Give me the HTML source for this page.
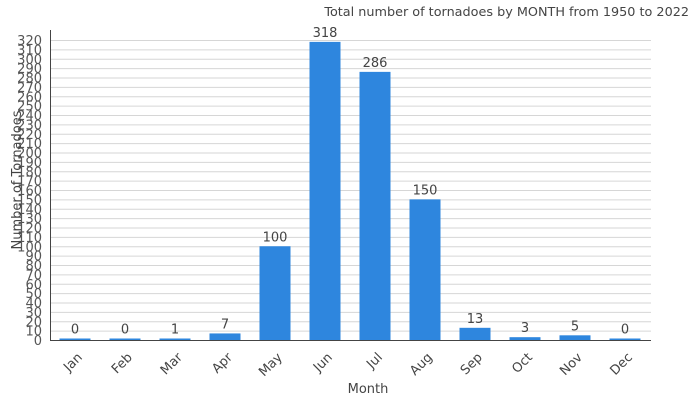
<!DOCTYPE html>
<html><head><meta charset="utf-8"><style>
html,body{margin:0;padding:0;background:#fff;}
svg{display:block;font-family:"DejaVu Sans","Liberation Sans",sans-serif;}
</style></head><body>
<svg width="700" height="400" viewBox="0 0 700 400" xmlns="http://www.w3.org/2000/svg">
<rect width="700" height="400" fill="#fff"/>
<text x="689" y="16" text-anchor="end" font-size="12.8" fill="#444">Total number of tornadoes by MONTH from 1950 to 2022</text>
<g id="grid" stroke="#d6d6d6" stroke-width="1"></g>
<g id="yl" font-size="13" fill="#555" text-anchor="end"></g>
<g id="bars" fill="#2e86de"></g>
<g id="vl" font-size="13" fill="#444" text-anchor="middle"></g>
<g id="xl" font-size="13" fill="#444" text-anchor="end"></g>
<line x1="50.5" y1="30" x2="50.5" y2="340" stroke="#444"/>
<line x1="50" y1="340.5" x2="651" y2="340.5" stroke="#444"/>
<text x="368" y="393" text-anchor="middle" font-size="13" fill="#444">Month</text>
<text transform="translate(21,180) rotate(-90)" text-anchor="middle" font-size="13" fill="#444">Number of Tornadoes</text>
</svg>
<script>
var ns="http://www.w3.org/2000/svg";
function el(t,a,p,txt){var e=document.createElementNS(ns,t);for(var k in a)e.setAttribute(k,a[k]);if(txt!==undefined)e.textContent=txt;document.getElementById(p).appendChild(e);}
var s=300/320;
for(var v=0;v<=320;v+=10){var y=340-v*s;if(v>0)el("line",{x1:50,x2:651,y1:y+0.5,y2:y+0.5},"grid");el("text",{x:42,y:y+5},"yl",v);}
var m=["Jan","Feb","Mar","Apr","May","Jun","Jul","Aug","Sep","Oct","Nov","Dec"];
var d=[0,0,1,7,100,318,286,150,13,3,5,0];
for(var i=0;i<12;i++){var cx=75+i*50;var h=Math.max(d[i]*s,1.5);
el("rect",{x:cx-15.5,y:340-h,width:31,height:h},"bars");
el("text",{x:cx,y:340-h-5},"vl",d[i]);
el("text",{x:cx+8,y:358,transform:"rotate(-45 "+(cx+8)+" 358)"},"xl",m[i]);}
</script>
</body></html>
